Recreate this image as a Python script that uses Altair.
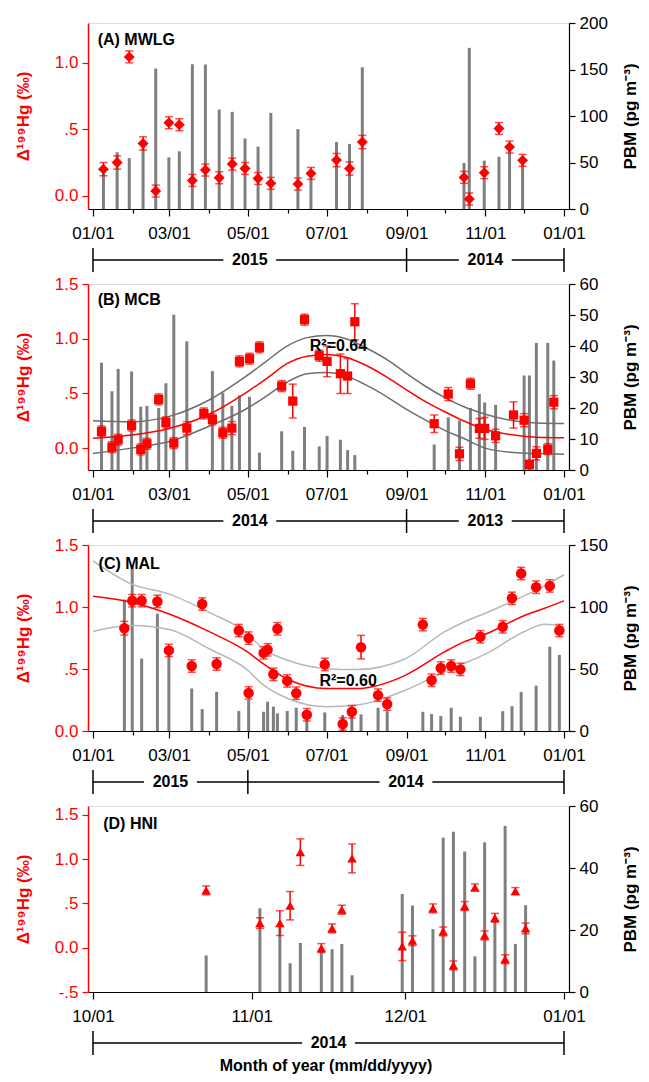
import altair as alt
import pandas as pd

FONT = "Liberation Sans"
W, H = 481, 186
RED = "#ff0000"
BARC = "#7f7f7f"

# ---------------- x ticks (day of year) ----------------
MONTH_DAYS = [0, 31, 59, 90, 120, 151, 181, 212, 243, 273, 304, 334, 365]
MONTH_LABELS = ["01/01", "", "03/01", "", "05/01", "", "07/01", "", "09/01", "", "11/01", "", "01/01"]
D_DAYS = [0, 31, 61, 92]
D_LABELS = ["10/01", "11/01", "12/01", "01/01"]

# ---------------- Panel A: MWLG ----------------
A_day = [8.1, 18.7, 28.1, 38.8, 48.6, 58.8, 66.9, 77.0, 87.1, 97.8, 107.9, 117.8, 127.9,
         137.8, 158.8, 168.9, 188.7, 198.8, 208.7, 287.5, 291.6, 303.2, 314.6, 322.8, 332.9]
A_val = [0.20, 0.25, 1.045, 0.393, 0.035, 0.549, 0.534, 0.115, 0.193, 0.135, 0.238, 0.205, 0.13,
         0.093, 0.088, 0.168, 0.268, 0.205, 0.404, 0.138, -0.025, 0.173, 0.506, 0.366, 0.266]
A_err = [0.05, 0.05, 0.045, 0.05, 0.045, 0.045, 0.045, 0.045, 0.045, 0.045, 0.045, 0.045, 0.045,
         0.045, 0.045, 0.045, 0.05, 0.05, 0.05, 0.045, 0.045, 0.045, 0.045, 0.045, 0.045]
A_bar_day = A_day
A_pbm = [43, 61, 54.7, 70, 151, 55.5, 62, 155.6, 155.3, 107, 104.5, 75.8, 67,
         103.4, 85.9, 38, 72, 70, 152.4, 49.5, 173.3, 52, 56.2, 65, 53]

# ---------------- Panel B: MCB ----------------
B_day = [6.6, 14.7, 19.5, 29.9, 37.0, 41.8, 50.9, 56.5, 62.6, 72.7, 85.9, 92.5, 100.6, 107.6,
         113.5, 121.3, 129.0, 146.2, 154.8, 163.9, 175.3, 181.4, 191.7, 197.3, 202.9, 264.4,
         275.3, 284.0, 292.5, 299.4, 303.5, 312.0, 325.9, 334.1, 338.2, 343.6, 352.4, 357.1]
B_val = [0.152, 0.009, 0.076, 0.207, -0.012, 0.04, 0.445, 0.235, 0.046, 0.183, 0.317, 0.262, 0.14, 0.183,
         0.793, 0.817, 0.921, 0.567, 0.43, 1.174, 0.845, 0.793, 0.68, 0.659, 1.155, 0.223,
         0.494, -0.052, 0.588, 0.18, 0.18, 0.112, 0.303, 0.255, -0.15, -0.048, -0.009, 0.42]
B_err = [0.05, 0.05, 0.05, 0.05, 0.05, 0.05, 0.05, 0.05, 0.05, 0.06, 0.05, 0.05, 0.05, 0.06,
         0.05, 0.05, 0.05, 0.05, 0.155, 0.05, 0.05, 0.14, 0.18, 0.16, 0.165, 0.08,
         0.06, 0.06, 0.05, 0.09, 0.1, 0.06, 0.12, 0.06, 0.04, 0.06, 0.05, 0.06]
B_bar_day = [6.6, 14.7, 19.5, 29.9, 37.0, 41.8, 50.9, 56.5, 62.6, 72.7, 92.5, 100.6, 107.6, 113.5,
             121.3, 129.0, 146.2, 154.8, 163.9, 175.3, 181.4, 191.7, 197.3, 202.9, 264.4, 275.3,
             284.0, 292.5, 299.4, 303.5, 312.0, 334.1, 338.2, 343.6, 352.4, 357.1]
B_pbm = [34.6, 25.4, 32.6, 31.8, 20.4, 20.7, 20, 28, 50.1, 41.5, 31.9, 24.9, 20.7, 24.1,
         23.6, 5.6, 12.5, 6.2, 13.9, 7.6, 11, 9.75, 6.4, 4.8, 8.25, 17,
         16, 20, 24.5, 21.8, 21, 30.5, 30.5, 41, 41, 35.3]
B_curve_day = [0, 30, 59, 90, 119, 135, 150, 166, 181, 196, 211, 229, 242, 257, 273, 287, 304, 326, 344, 365]
B_fit = [0.09, 0.12, 0.18, 0.31, 0.51, 0.64, 0.77, 0.84, 0.855, 0.83, 0.76, 0.64, 0.54, 0.43, 0.33, 0.25, 0.17, 0.12, 0.10, 0.095]
B_upper = [0.25, 0.24, 0.29, 0.44, 0.66, 0.80, 0.93, 1.01, 1.03, 1.00, 0.92, 0.80, 0.69, 0.57, 0.46, 0.38, 0.31, 0.25, 0.23, 0.225]
B_lower = [-0.05, 0.00, 0.06, 0.20, 0.36, 0.48, 0.60, 0.68, 0.69, 0.66, 0.58, 0.46, 0.36, 0.26, 0.16, 0.09, 0.00, -0.04, -0.05, -0.055]

# ---------------- Panel C: MAL ----------------
C_day = [24.3, 30.4, 37.7, 49.9, 58.8, 76.5, 84.6, 95.8, 113.0, 120.6, 120.6, 132.2, 135.3, 139.8,
         142.9, 150.5, 157.5, 165.7, 179.6, 193.5, 200.6, 207.7, 220.9, 228.0, 255.6, 262.4,
         269.5, 277.6, 284.7, 300.2, 317.5, 324.7, 331.8, 343.4, 354.0, 361.4]
C_val = [0.829, 1.051, 1.051, 1.045, 0.65, 0.524, 1.024, 0.54, 0.81, 0.749, 0.307, 0.63, 0.655, 0.457,
         0.824, 0.404, 0.305, 0.131, 0.537, 0.056, 0.155, 0.676, 0.289, 0.217, 0.858, 0.409,
         0.508, 0.524, 0.497, 0.76, 0.84, 1.07, 1.27, 1.16, 1.17, 0.81]
C_err = [0.055, 0.05, 0.05, 0.05, 0.05, 0.05, 0.05, 0.05, 0.05, 0.05, 0.05, 0.05, 0.05, 0.05,
         0.05, 0.05, 0.05, 0.05, 0.05, 0.05, 0.05, 0.095, 0.05, 0.05, 0.05, 0.05,
         0.05, 0.05, 0.05, 0.05, 0.05, 0.05, 0.05, 0.05, 0.05, 0.05]
C_bar_day = [24.3, 30.4, 37.7, 49.9, 58.8, 76.5, 84.6, 95.8, 113.0, 120.6, 132.2, 135.3, 139.8, 142.9,
             150.5, 157.5, 165.7, 179.6, 193.5, 200.6, 207.7, 220.9, 228.0, 255.6, 262.4, 269.5,
             277.6, 284.7, 300.2, 317.5, 324.7, 331.8, 343.4, 354.0, 361.4]
C_pbm = [106, 133.4, 58.4, 94.6, 63, 34.3, 17.7, 31.6, 16.1, 25, 15.5, 23.6, 19.6, 14.2,
         16.1, 18.75, 12, 15, 12.9, 16, 13.4, 18.75, 16, 15.5, 13.7, 12,
         18.75, 11.5, 11.5, 16, 20, 31.5, 36.6, 68, 61.4]
C_curve_day = [0, 30, 59, 90, 120, 131, 151, 181, 204, 242, 272, 287, 304, 334, 350, 365]
C_fit = [1.086, 1.037, 0.944, 0.802, 0.636, 0.55, 0.417, 0.342, 0.342, 0.449, 0.636, 0.717, 0.78, 0.93, 0.99, 1.05]
C_upper = [1.372, 1.184, 1.104, 0.957, 0.783, 0.67, 0.57, 0.503, 0.495, 0.583, 0.797, 0.877, 0.95, 1.09, 1.17, 1.26]
C_lower = [0.802, 0.85, 0.818, 0.663, 0.489, 0.38, 0.262, 0.195, 0.209, 0.329, 0.476, 0.543, 0.62, 0.80, 0.86, 0.84]

# ---------------- Panel D: HNI (days since 10/01) ----------------
D_day = [22.1, 32.6, 36.5, 38.5, 40.5, 44.6, 46.7, 48.6, 50.6, 60.4, 62.4, 66.4, 68.4, 70.4,
         72.6, 74.6, 76.5, 78.5, 80.5, 82.5, 84.5]
D_val = [0.647, 0.278, 0.278, 0.474, 1.079, -0.004, 0.218, 0.429, 1.008, 0.015, 0.079, 0.444, 0.184, -0.2,
         0.47, 0.68, 0.139, 0.338, -0.13, 0.639, 0.218]
D_err = [0.05, 0.06, 0.14, 0.16, 0.15, 0.05, 0.05, 0.05, 0.163, 0.16, 0.055, 0.05, 0.05, 0.05,
         0.05, 0.04, 0.05, 0.05, 0.05, 0.04, 0.06]
D_bar_day = D_day
D_pbm = [11.8, 27, 21, 9.3, 15.8, 14, 13.8, 15.5, 5.4, 31.6, 27.9, 20.3, 49.8, 51.7,
         45.3, 11.5, 48.3, 23, 53.6, 15.5, 28]

# ---------------- labels ----------------
PANEL_NAMES = ["(A) MWLG", "(B) MCB", "(C) MAL", "(D) HNI"]
PANEL_LABEL_POS = [(3.6, 1.17), (3.6, 1.35), (4.3, 1.345), (2.0, 1.40)]
R2_TEXT = {"B": ("R²=0.64", 168, 0.93), "C": ("R²=0.60", 175.5, 0.40)}
BRACKETS = {
    "A": ([0, 243, 365], ["2015", "2014"]),
    "B": ([0, 243, 365], ["2014", "2013"]),
    "C": ([0, 120, 365], ["2015", "2014"]),
    "D": ([0, 92], ["2014"]),
}
GAP_PX = 27


def label_expr(days, labels):
    expr = "''"
    for d, l in reversed(list(zip(days, labels))):
        expr = f"datum.value == {d} ? '{l}' : ({expr})"
    return expr


def make_x_axis(days, labels):
    minor = [d for d, l in zip(days, labels) if l == ""]
    if minor:
        ts = {"condition": {"test": f"indexof({minor}, datum.value) >= 0", "value": 4}, "value": 7}
    else:
        ts = 7
    return alt.Axis(values=days, labelExpr=label_expr(days, labels), tickSize=ts, title=None,
                    grid=False, labelFontSize=17, labelPadding=9, labelFont=FONT,
                    domainColor="black", tickColor="black", labelColor="black",
                    domainWidth=1.2, tickWidth=1.2, labelFlush=False, labelOverlap=False)


def make_left_axis(vals):
    return alt.Axis(orient="left", values=vals,
                    labelExpr="abs(datum.value) == 0.5 ? (datum.value < 0 ? '-.5' : '.5') : format(datum.value, '.1f')",
                    title="Δ¹⁹⁹Hg (‰)", titleColor=RED, titleFontSize=17, titleFontWeight="bold",
                    titleFont=FONT, titlePadding=16, labelColor=RED, labelFontSize=17, labelFont=FONT,
                    domainColor=RED, domainWidth=1.5, tickColor=RED, tickSize=6, tickWidth=1.2,
                    labelPadding=4, minExtent=40, maxExtent=40, grid=False)


def make_right_axis(vals):
    return alt.Axis(orient="right", values=vals, title="PBM (pg m⁻³)", titleAngle=270,
                    titleBaseline="top", titleColor="black", titleFontSize=17, titleFontWeight="bold",
                    titleFont=FONT, titlePadding=15, labelColor="black", labelFontSize=17, labelFont=FONT,
                    domainColor="black", domainWidth=1.2, tickColor="black", tickSize=6, tickWidth=1.2,
                    labelPadding=4, minExtent=38, maxExtent=38, grid=False)


def panel(key, idx, day, val, err, bar_day, pbm, shape, size, ldom, lticks, rdom, rticks,
          xdom, xdays, xlabels, curve=None, band_color=None):
    xs = alt.Scale(domain=xdom, nice=False, zero=False)
    xa = make_x_axis(xdays, xlabels)
    ls = alt.Scale(domain=ldom, nice=False, zero=False)
    la = make_left_axis(lticks)
    X = lambda f: alt.X(f"{f}:Q", scale=xs, axis=xa)
    Y = lambda f: alt.Y(f"{f}:Q", scale=ls, axis=la)

    dbar = pd.DataFrame({"day": bar_day, "pbm": pbm})
    bars = alt.Chart(dbar).mark_bar(width=3, color=BARC).encode(
        x=X("day"),
        y=alt.Y("pbm:Q", scale=alt.Scale(domain=rdom, nice=False), axis=make_right_axis(rticks)),
    )

    dpt = pd.DataFrame({"day": day, "val": val,
                        "lo": [v - e for v, e in zip(val, err)],
                        "hi": [v + e for v, e in zip(val, err)]})
    left_layers = []
    if curve is not None:
        cday, cfit, cup, clo = curve
        dc = pd.DataFrame({"day": cday, "fit": cfit, "upper": cup, "lower": clo})
        for f, c in (("upper", band_color), ("lower", band_color), ("fit", RED)):
            left_layers.append(alt.Chart(dc).mark_line(color=c, strokeWidth=1.5, interpolate="monotone")
                               .encode(x=X("day"), y=Y(f)))
    left_layers.append(alt.Chart(dpt).mark_errorbar(color=RED, ticks=True, size=8, thickness=1.5)
                       .encode(x=X("day"), y=Y("lo"), y2="hi:Q"))
    left_layers.append(alt.Chart(dpt).mark_point(shape=shape, filled=True, size=size, color=RED, opacity=1)
                       .encode(x=X("day"), y=Y("val")))
    lx, ly = PANEL_LABEL_POS[idx]
    dlab = pd.DataFrame({"day": [lx], "val": [ly], "t": [PANEL_NAMES[idx]]})
    left_layers.append(alt.Chart(dlab).mark_text(align="left", baseline="middle", fontSize=16,
                                                 fontWeight="bold", font=FONT, color="black")
                       .encode(x=X("day"), y=Y("val"), text="t:N"))
    if key in R2_TEXT:
        t, rx, ry = R2_TEXT[key]
        dr = pd.DataFrame({"day": [rx], "val": [ry], "t": [t]})
        left_layers.append(alt.Chart(dr).mark_text(align="left", baseline="middle", fontSize=16,
                                                   fontWeight="bold", font=FONT, color="black")
                           .encode(x=X("day"), y=Y("val"), text="t:N"))
    left = alt.layer(*left_layers)

    # bracket with year labels below the axis
    bounds, years = BRACKETS[key]
    span = xdom[1] - xdom[0]
    gap = GAP_PX * span / W
    segs, labs = [], []
    for (a, b), yr in zip(zip(bounds[:-1], bounds[1:]), years):
        m = (a + b) / 2
        segs += [(a, m - gap), (m + gap, b)]
        labs.append((m, yr))
    bsc = alt.Scale(domain=[0, 1], range=[H + 63, H + 39])
    dseg = pd.DataFrame({"x1": [s[0] for s in segs], "x2": [s[1] for s in segs], "y": 0.5})
    dtk = pd.DataFrame({"x1": bounds, "y": 0.0, "y2": 1.0})
    dyl = pd.DataFrame({"x1": [l[0] for l in labs], "y": 0.5, "t": [l[1] for l in labs]})
    br = alt.layer(
        alt.Chart(dseg).mark_rule(color="black", strokeWidth=1.5).encode(
            x=X("x1"), x2="x2:Q", y=alt.Y("y:Q", scale=bsc, axis=None)),
        alt.Chart(dtk).mark_rule(color="black", strokeWidth=1.5).encode(
            x=X("x1"), y=alt.Y("y:Q", scale=bsc, axis=None), y2="y2:Q"),
        alt.Chart(dyl).mark_text(fontSize=16, fontWeight="bold", font=FONT, color="black",
                                 baseline="middle", align="center").encode(
            x=X("x1"), y=alt.Y("y:Q", scale=bsc, axis=None), text="t:N"),
    )
    return alt.layer(bars, left, br).resolve_scale(y="independent").properties(width=W, height=H)


pA = panel("A", 0, A_day, A_val, A_err, A_bar_day, A_pbm, "diamond", 120,
           [-0.1, 1.3], [0, 0.5, 1.0], [0, 200], [0, 50, 100, 150, 200],
           [0, 365], MONTH_DAYS, MONTH_LABELS)
pB = panel("B", 1, B_day, B_val, B_err, B_bar_day, B_pbm, "square", 85,
           [-0.2, 1.5], [0, 0.5, 1.0, 1.5], [0, 60], [0, 10, 20, 30, 40, 50, 60],
           [0, 365], MONTH_DAYS, MONTH_LABELS,
           curve=(B_curve_day, B_fit, B_upper, B_lower), band_color="#6e6e6e")
pC = panel("C", 2, C_day, C_val, C_err, C_bar_day, C_pbm, "circle", 110,
           [0, 1.5], [0, 0.5, 1.0, 1.5], [0, 150], [0, 50, 100, 150],
           [0, 365], MONTH_DAYS, MONTH_LABELS,
           curve=(C_curve_day, C_fit, C_upper, C_lower), band_color="#b8b8b8")
pD = panel("D", 3, D_day, D_val, D_err, D_bar_day, D_pbm, "triangle-up", 90,
           [-0.5, 1.6], [-0.5, 0, 0.5, 1.0, 1.5], [0, 60], [0, 20, 40, 60],
           [0, 92], D_DAYS, D_LABELS)

chart = alt.vconcat(pA, pB, pC, pD, spacing=0).properties(
    title=alt.TitleParams("Month of year (mm/dd/yyyy)", orient="bottom", fontSize=16,
                          fontWeight="bold", font=FONT, anchor="middle", offset=2, color="black"),
    padding={"left": 5, "top": 5, "right": 0, "bottom": 0},
).configure_view(stroke="black", strokeWidth=1.2).configure(font=FONT)

chart.save("out.html", embed_options={"renderer": "svg", "actions": False})
